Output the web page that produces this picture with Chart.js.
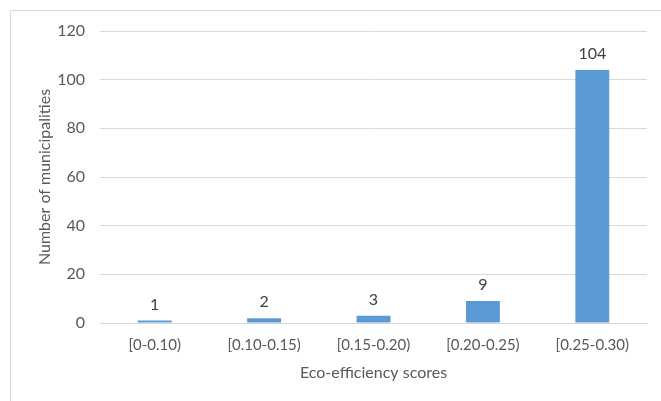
<!DOCTYPE html>
<html>
<head>
<meta charset="utf-8">
<script src="https://cdn.jsdelivr.net/npm/chart.js@4/dist/chart.umd.min.js"></script>
<style>
  html, body { margin: 0; padding: 0; background: #fff; }
  #wrap { width: 661px; height: 401px; position: relative; }
</style>
</head>
<body>
<div id="wrap"><canvas id="c" width="661" height="401"></canvas></div>
<script>
// Score bands and the number of municipalities in each
const categories = ['[0-0.10)', '[0.10-0.15)', '[0.15-0.20)', '[0.20-0.25)', '[0.25-0.30)'];
const municipalities = [1, 2, 3, 9, 104];
const yTicks = [0, 20, 40, 60, 80, 100, 120];

const FONT = "Lato, 'Open Sans', sans-serif";

// Outer frame of the chart area (light grey rule)
const framePlugin = {
  id: 'frame',
  beforeDraw(chart) {
    const ctx = chart.ctx;
    ctx.save();
    ctx.strokeStyle = '#d9d9d9';
    ctx.lineWidth = 1;
    ctx.beginPath();
    ctx.moveTo(10.5, chart.height + 5);
    ctx.lineTo(10.5, 10.5);
    ctx.lineTo(chart.width + 5, 10.5);
    ctx.stroke();
    ctx.restore();
  }
};

// Value printed above each bar
const valueLabels = {
  id: 'valueLabels',
  afterDatasetsDraw(chart) {
    const ctx = chart.ctx;
    const meta = chart.getDatasetMeta(0);
    const data = chart.data.datasets[0].data;
    ctx.save();
    ctx.font = '16px ' + FONT;
    ctx.fillStyle = '#404040';
    ctx.textAlign = 'center';
    ctx.textBaseline = 'bottom';
    meta.data.forEach((bar, i) => {
      ctx.fillText(String(data[i]), bar.x, bar.y - 8);
    });
    ctx.restore();
  }
};

new Chart(document.getElementById('c'), {
  type: 'bar',
  data: {
    labels: categories,
    datasets: [{
      data: municipalities,
      backgroundColor: '#5b9bd5',
      borderWidth: 0,
      categoryPercentage: 1,
      barPercentage: 0.31
    }]
  },
  options: {
    responsive: false,
    animation: false,
    devicePixelRatio: 1,
    layout: { padding: { left: 30, right: 14, top: 31, bottom: 0 } },
    plugins: {
      legend: { display: false },
      tooltip: { enabled: false }
    },
    scales: {
      x: {
        grid: { display: false, drawTicks: false },
        border: { display: true, color: '#d9d9d9', width: 1 },
        ticks: { color: '#595959', font: { family: FONT, size: 15 }, padding: 13, maxRotation: 0 },
        title: {
          display: true,
          text: 'Eco-efficiency scores',
          color: '#595959',
          font: { family: FONT, size: 16 },
          padding: { top: 0, bottom: 19 }
        },
        afterFit(s) { s.height = 78; }
      },
      y: {
        min: 0,
        max: 120,
        afterBuildTicks(s) { s.ticks = yTicks.map(v => ({ value: v })); },
        grid: { color: '#d9d9d9', drawTicks: false },
        border: { display: false },
        ticks: { color: '#595959', font: { family: FONT, size: 16 }, padding: 15 },
        title: {
          display: true,
          text: 'Number of municipalities',
          color: '#595959',
          font: { family: FONT, size: 16 },
          padding: { top: 5, bottom: 0 }
        },
        afterFit(s) { s.width = 70; }
      }
    }
  },
  plugins: [framePlugin, valueLabels]
});
</script>
</body>
</html>
